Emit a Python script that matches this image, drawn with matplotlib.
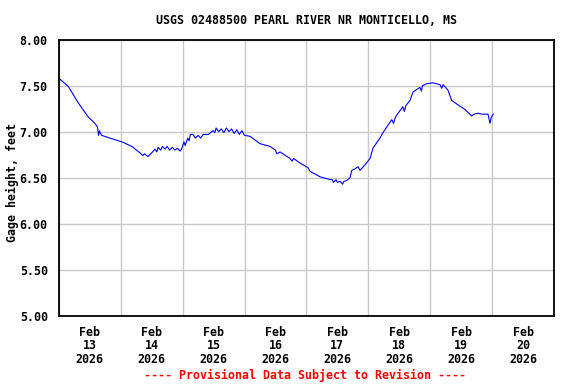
import numpy as np
import pandas as pd
import matplotlib
matplotlib.use('Agg')
import matplotlib.pyplot as plt
import matplotlib.dates as mdates

# hours since 2026-02-13 00:00 and gage height (ft)
hours = [0.0, 3.7, 7.6, 11.4, 14.0, 15.0, 15.4, 15.8, 16.2, 16.6, 19.8, 24.4,
         28.3, 31.5, 32.6, 33.2, 34.6, 36.0, 37.3, 38.0, 38.5, 39.5, 40.2, 41.2,
         42.0, 43.0, 44.0, 45.0, 46.0, 47.0, 47.6, 48.5, 49.0, 50.0, 50.5, 51.0,
         52.0, 53.0, 54.0, 55.0, 56.0, 58.0, 59.8, 60.5, 61.0, 62.0, 63.0, 64.0,
         65.0, 66.0, 67.0, 68.0, 69.0, 70.0, 71.0, 72.0, 74.1, 78.0, 81.9, 84.0,
         84.5, 85.8, 89.6, 90.5, 91.0, 93.5, 96.6, 97.4, 101.3, 105.2, 106.0,
         106.5, 107.5, 108.0, 109.1, 110.0, 110.5, 111.6, 112.9, 113.6, 115.0,
         116.0, 116.8, 118.7, 120.7, 121.8, 124.5, 125.7, 129.1, 129.8, 130.3,
         131.0, 133.4, 134.0, 134.5, 136.2, 137.3, 140.0, 140.6, 141.0, 142.6,
         145.1, 147.8, 148.5, 149.0, 150.9, 152.3, 154.8, 157.5, 160.1, 161.0,
         162.6, 164.0, 166.4, 167.2, 167.6, 168.4]
gage_ft = [7.58, 7.49, 7.31, 7.16, 7.09, 7.05, 6.96, 7.01, 6.98, 6.96, 6.93, 6.89,
           6.84, 6.77, 6.74, 6.76, 6.73, 6.77, 6.81, 6.78, 6.83, 6.80, 6.84, 6.81,
           6.84, 6.80, 6.83, 6.80, 6.82, 6.79, 6.81, 6.89, 6.85, 6.93, 6.90, 6.97,
           6.97, 6.93, 6.96, 6.93, 6.97, 6.97, 7.01, 6.99, 7.04, 7.00, 7.03, 6.99,
           7.04, 7.00, 7.03, 6.98, 7.02, 6.97, 7.01, 6.96, 6.95, 6.87, 6.84, 6.80,
           6.76, 6.78, 6.71, 6.68, 6.71, 6.66, 6.61, 6.57, 6.51, 6.48, 6.48,
           6.45, 6.48, 6.45, 6.46, 6.43, 6.46, 6.47, 6.50, 6.58, 6.60,
           6.62, 6.58, 6.64, 6.71, 6.82, 6.93, 6.99, 7.13, 7.09, 7.14,
           7.18, 7.27, 7.22, 7.28, 7.34, 7.43, 7.48, 7.44, 7.50, 7.52,
           7.53, 7.51, 7.47, 7.51, 7.45, 7.34, 7.29, 7.24, 7.17, 7.19,
           7.20, 7.19, 7.19, 7.09, 7.15, 7.19]

yticks = [5.0, 5.5, 6.0, 6.5, 7.0, 7.5, 8.0]
title = "USGS 02488500 PEARL RIVER NR MONTICELLO, MS"
ylabel = "Gage height, feet"
footer = "---- Provisional Data Subject to Revision ----"

times = pd.Timestamp('2026-02-13') + pd.to_timedelta(hours, unit='h')
start = pd.Timestamp('2026-02-13')
end = pd.Timestamp('2026-02-21')

fnt = {'family': 'DejaVu Sans Mono', 'weight': 'bold', 'size': 8.4}

fig = plt.figure(figsize=(5.76, 3.84), dpi=100)
ax = fig.add_axes([58.8/576, 68/384, 495.2/576, 276.5/384])

ax.plot(times, gage_ft, color='#0000ff', lw=0.8)

ax.set_xlim(start, end)
ax.set_ylim(5.0, 8.0)
ax.set_yticks(yticks)
ax.set_yticklabels(['%.2f' % v for v in yticks], fontdict=fnt)

days = pd.date_range(start, end, freq='D')
ax.set_xticks(days)
ax.set_xticklabels([])
noons = pd.date_range(start + pd.Timedelta(hours=12), end, freq='D')
ax.set_xticks(noons, minor=True)
ax.set_xticklabels(['%s\n%d\n%d' % (d.strftime('%b'), d.day, d.year) for d in noons],
                   minor=True, fontdict=fnt, linespacing=1.05)

ax.tick_params(axis='both', which='both', length=0)
ax.tick_params(axis='y', pad=8)
ax.tick_params(axis='x', which='minor', pad=7)
ax.grid(True, which='major', color='#c8c8c8', lw=1.0)
ax.set_axisbelow(True)
for s in ax.spines.values():
    s.set_linewidth(1.3)
    s.set_color('black')

fig.text(307/576, 1 - 20/384, title, ha='center', va='center', fontdict=fnt)
fig.text(12/576, 1 - 183/384, ylabel, ha='center', va='center', rotation=90, fontdict=fnt)
fig.text(305/576, 1 - 375/384, footer, ha='center', va='center', color='#ff0000', fontdict=fnt)

fig.savefig('out.png', dpi=100)
